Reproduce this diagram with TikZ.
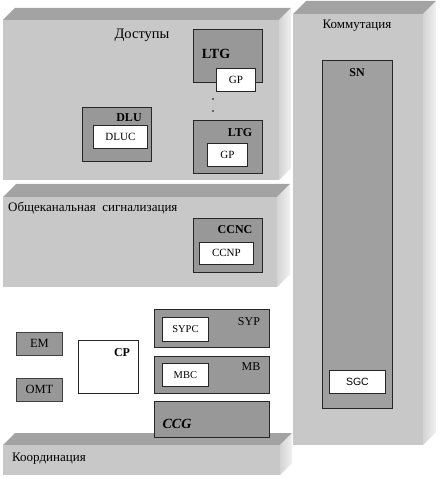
\documentclass[tikz,border=0pt]{standalone}
\usepackage{fontspec}
\setmainfont{Liberation Serif}
\newfontfamily\sgcfont{Liberation Sans}
\definecolor{frontc}{RGB}{200,200,200}
\definecolor{topc}{RGB}{163,163,163}
\definecolor{sidea}{RGB}{212,212,212}
\definecolor{sideb}{RGB}{240,240,240}
\definecolor{boxc}{RGB}{152,152,152}
\definecolor{snc}{RGB}{160,160,160}
\newcommand{\slab}[5]{%
  \fill[topc] (#1,#2) -- (#1+#5,#2-#5) -- (#3+#5,#2-#5) -- (#3,#2) -- cycle;
  \shade[left color=sidea,right color=sideb] (#3,#2) -- (#3+#5,#2-#5) -- (#3+#5,#4-#5) -- (#3,#4) -- cycle;
  \fill[frontc] (#1,#2) rectangle (#3,#4);
}
\tikzset{
  gbox/.style={draw=black!85,line width=0.8pt,fill=boxc,inner sep=0pt,anchor=north west},
  wbox/.style={draw=black!85,line width=0.8pt,fill=white,inner sep=0pt,anchor=north west},
  hb/.style={font=\bfseries\fontsize{12}{12}\selectfont,inner sep=0pt},
  lb/.style={font=\fontsize{11}{11}\selectfont,inner sep=0pt},
  ml/.style={font=\fontsize{12}{12}\selectfont,inner sep=0pt},
  tl/.style={font=\fontsize{13}{13}\selectfont,inner sep=0pt},
}
\newcommand{\bx}[6]{\node[#6,minimum width={#4-#2},minimum height={#5-#3}] (#1) at (#2,#3) {};}
\begin{document}
\begin{tikzpicture}[x=1pt,y=-1pt]
\useasboundingbox (0,0) rectangle (439,478);
\fill[white] (0,0) rectangle (439,478);
% blocks
\slab{293}{14}{423}{445}{13}
\slab{3}{20}{279}{180}{12}
\slab{3}{197}{277}{287}{13}
\slab{3}{445}{280}{475}{12}
% labels of blocks
\node[tl,font=\fontsize{14.5}{14.5}\selectfont] (tdost) at (142,35) {Доступы};
\node[tl] (tkomm) at (357,26) {Коммутация};
\node[tl,anchor=west] (tobsh) at (8,208) {Общеканальная\ \ сигнализация};
\node[tl,anchor=west] (tkoord) at (12,459) {Координация};
% Доступы
\bx{ltga}{193}{29}{262}{82}{gbox}
\node[hb,font=\bfseries\fontsize{14}{14}\selectfont] (ltgat) at (216,54) {LTG};
\bx{gpa}{216}{68}{255}{91}{wbox}
\node[lb] (gpat) at (gpa) {GP};
\fill (213,99) circle (0.9) coordinate (dota);
\fill (213,111) circle (0.9) coordinate (dotb);
\bx{ltgb}{193}{120}{262}{173}{gbox}
\node[hb] (ltgbt) at (240,133) {LTG};
\bx{gpb}{207}{143}{247}{166}{wbox}
\node[lb] (gpbt) at (gpb) {GP};
\bx{dlu}{82}{107}{151}{161}{gbox}
\node[hb] (dlut) at (129,118) {DLU};
\bx{dluc}{93}{125}{147}{148}{wbox}
\node[lb] (dluct) at (dluc) {DLUC};
% Общеканальная
\bx{ccnc}{193}{218}{262}{272}{gbox}
\node[hb] (ccnct) at (235,230) {CCNC};
\bx{ccnp}{199}{242}{253}{264}{wbox}
\node[lb] (ccnpt) at (ccnp) {CCNP};
% Коммутация
\bx{sn}{322}{60}{392}{408}{gbox,fill=snc}
\node[hb] (snt) at (357,73) {SN};
\bx{sgc}{329}{370}{385}{393}{wbox}
\node[lb,font=\sgcfont\fontsize{10.5}{10.5}\selectfont] (sgct) at (sgc) {SGC};
% Координация
\bx{em}{16}{332}{62}{355}{gbox,draw=black!75}
\node[ml,font=\fontsize{12.5}{12.5}\selectfont] (emt) at (em) {EM};
\bx{omt}{16}{378}{62}{401}{gbox,draw=black!75}
\node[ml,font=\fontsize{12.5}{12.5}\selectfont] (omtt) at (omt) {OMT};
\bx{cp}{78}{340}{138}{393}{wbox}
\node[hb] (cpt) at (122,353) {CP};
\bx{syp}{154}{309}{269}{347}{gbox}
\node[ml] (sypt) at (249,322) {SYP};
\bx{sypc}{162}{317}{208}{341}{wbox}
\node[lb,font=\fontsize{10.5}{10.5}\selectfont] (sypct) at (sypc) {SYPC};
\bx{mb}{154}{356}{269}{393}{gbox}
\node[ml] (mbt) at (251,367) {MB};
\bx{mbc}{162}{363}{208}{386}{wbox}
\node[lb,font=\fontsize{10.5}{10.5}\selectfont] (mbct) at (mbc) {MBC};
\bx{ccg}{154}{401}{269}{437}{gbox}
\node[inner sep=0pt,font=\bfseries\itshape\fontsize{14}{14}\selectfont] (ccgt) at (177,424) {CCG};
\end{tikzpicture}
\end{document}
